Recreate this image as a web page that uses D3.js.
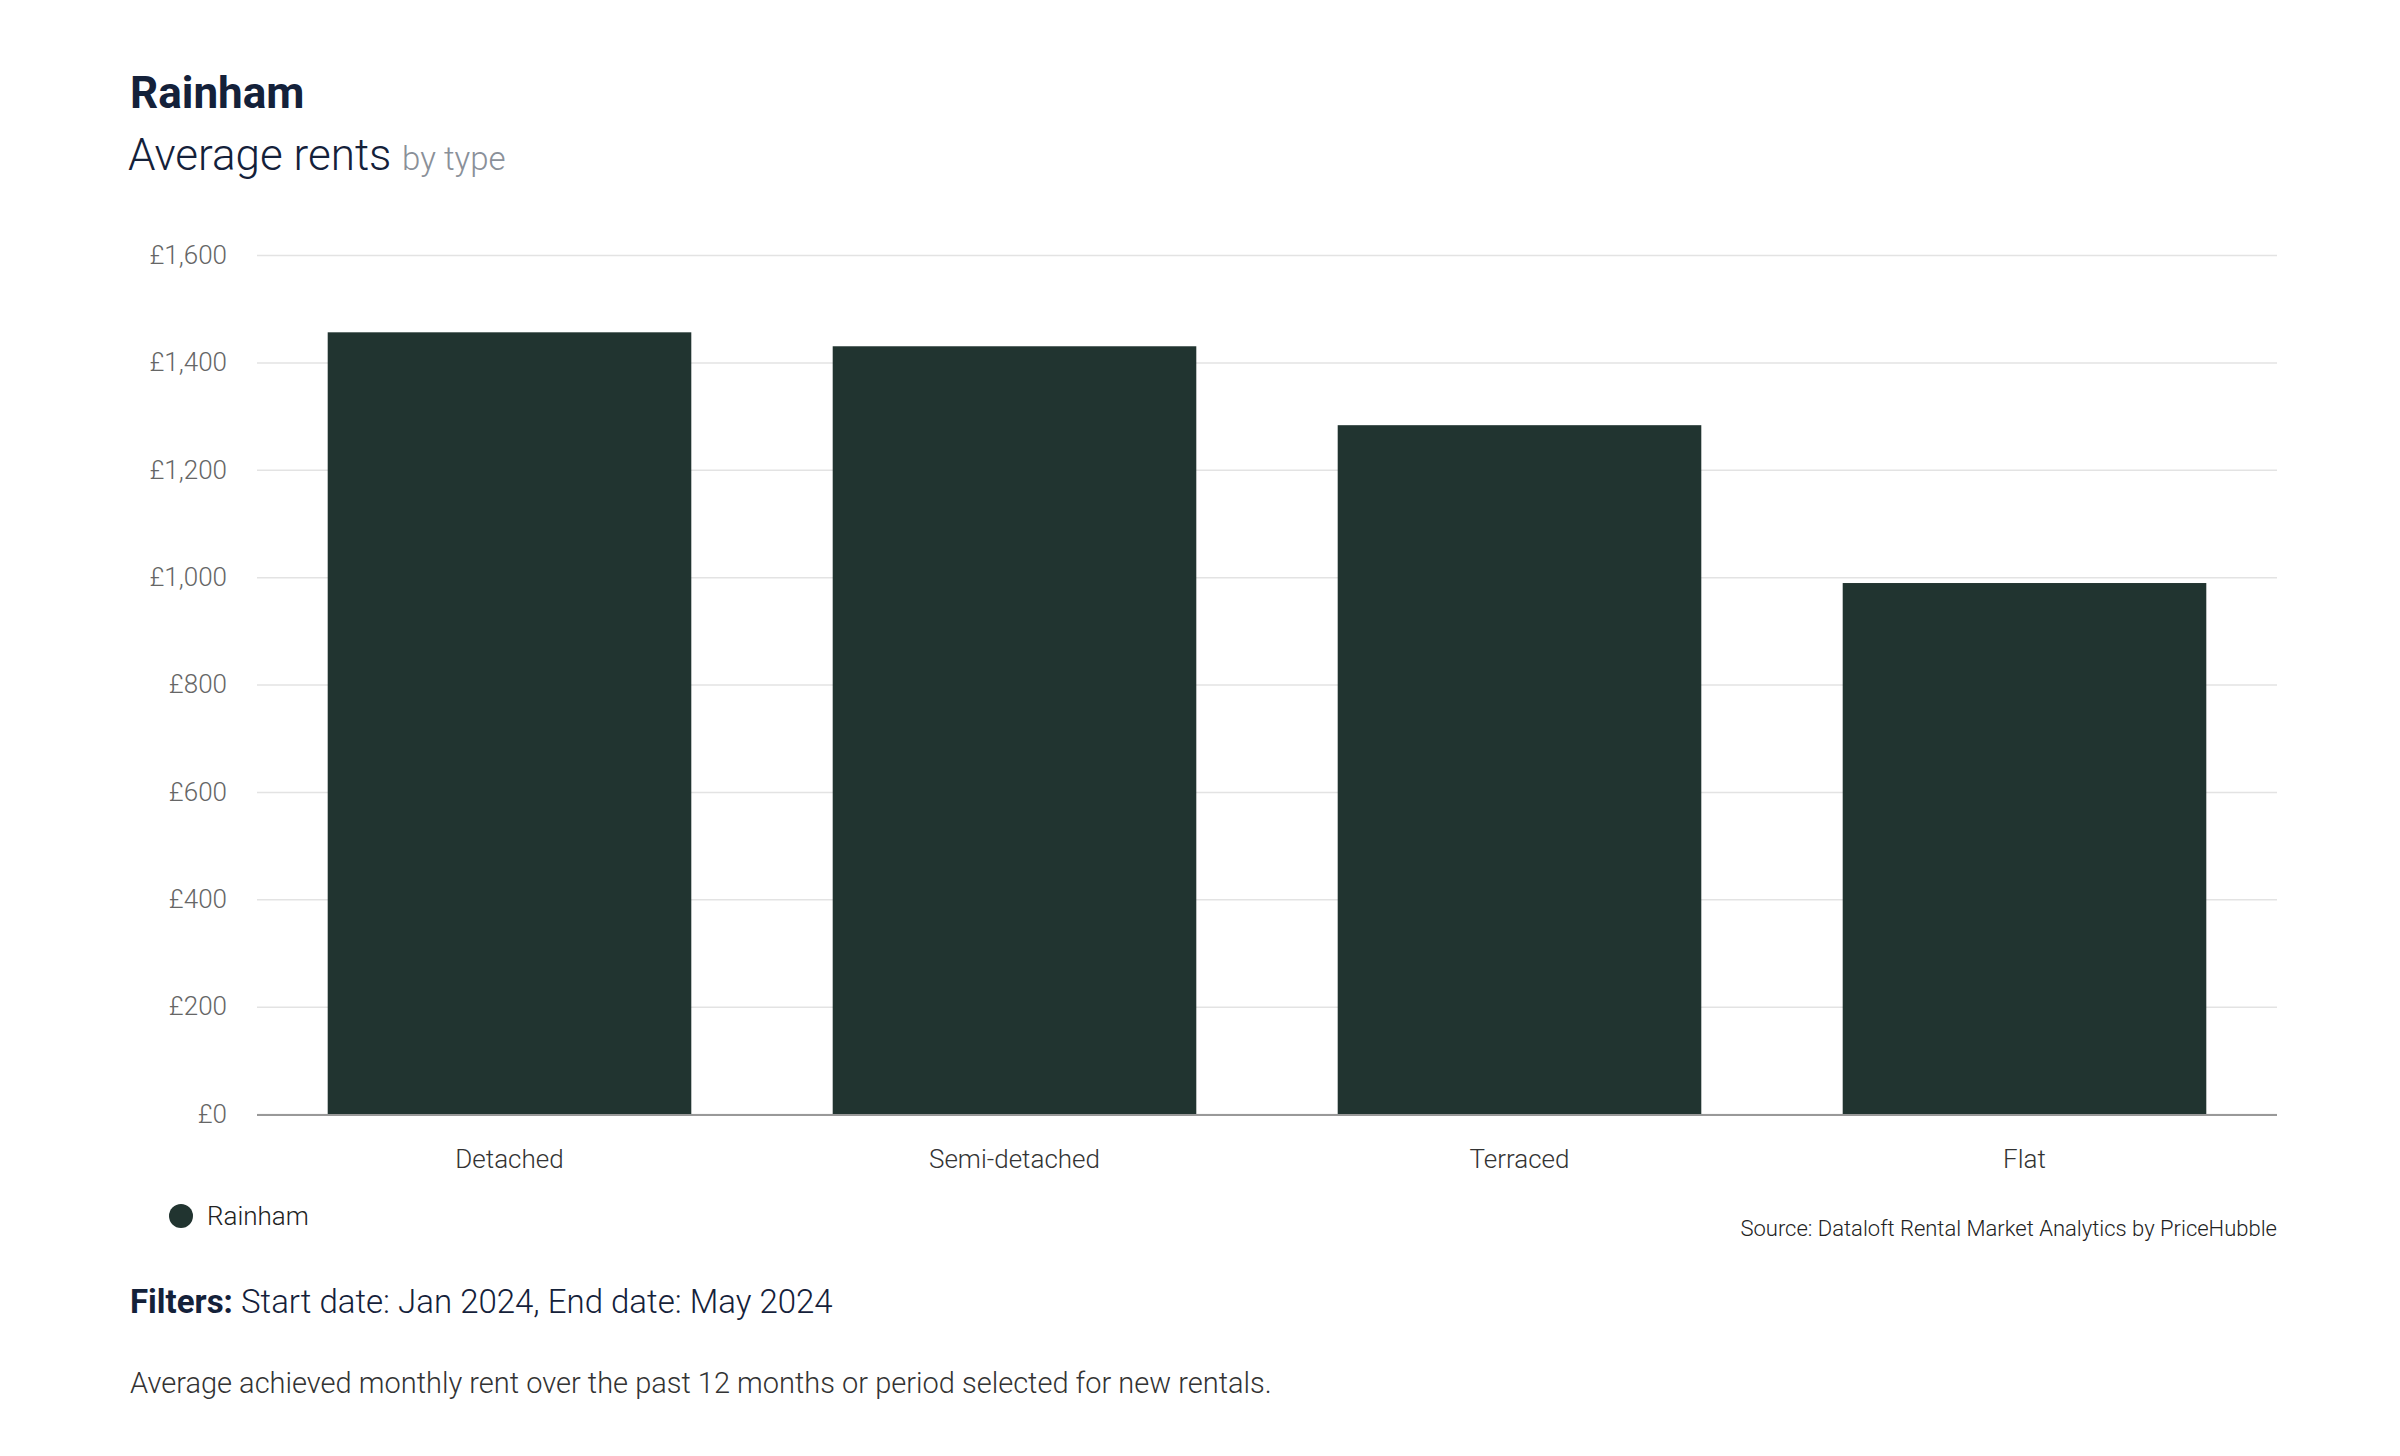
<!DOCTYPE html>
<html><head><meta charset="utf-8">
<script src="https://cdn.jsdelivr.net/npm/d3@7"></script>
<style>body{margin:0;background:#fff}svg{font-family:Roboto,sans-serif}</style>
</head><body>
<svg id="c" width="2400" height="1456"></svg>
<script>
const categories = ["Detached","Semi-detached","Terraced","Flat"];
const values = [1456, 1430, 1283, 989];
const yTicks = [0,200,400,600,800,1000,1200,1400,1600];

const svg = d3.select("#c");
const L=257, R=2277, T=255, B=1114;
const x = d3.scaleBand().domain(categories).range([L,R]).paddingInner(0.28).paddingOuter(0.14);
const y = d3.scaleLinear().domain([0,1600]).range([B,T]);

svg.append("text").attr("x",130).attr("y",108).attr("font-size",44).attr("font-weight",700).attr("fill","#14213a").text("Rainham");
const st = svg.append("text").attr("x",128).attr("y",170).attr("font-size",44).attr("font-weight",300).attr("fill","#14213a");
st.append("tspan").text("Average rents ");
st.append("tspan").attr("font-size",33).attr("fill","#8a9099").text("by type");

const yAxis = svg.append("g").attr("transform",`translate(${L},0)`)
  .call(d3.axisLeft(y).tickValues(yTicks).tickSize(-(R-L)).tickFormat(d=>"£"+d3.format(",")(d)));
yAxis.select(".domain").remove();
yAxis.selectAll(".tick line").attr("stroke","#e3e3e3").attr("stroke-width",1.5);
yAxis.selectAll(".tick text").attr("x",-30).attr("font-size",26).attr("font-weight",300).attr("fill","#666").attr("font-family","Roboto");

svg.selectAll("rect.bar").data(values).join("rect").attr("class","bar")
  .attr("x",(d,i)=>x(categories[i])).attr("width",x.bandwidth())
  .attr("y",d=>y(d)).attr("height",d=>y(0)-y(d)).attr("fill","#213430");

svg.append("line").attr("x1",L).attr("x2",R).attr("y1",B+1).attr("y2",B+1).attr("stroke","#999").attr("stroke-width",2);

svg.selectAll("text.xl").data(categories).join("text").attr("class","xl")
  .attr("x",d=>x(d)+x.bandwidth()/2).attr("y",1168).attr("text-anchor","middle")
  .attr("font-size",26).attr("font-weight",300).attr("fill","#333").text(d=>d);

svg.append("circle").attr("cx",181).attr("cy",1216).attr("r",12).attr("fill","#213430");
svg.append("text").attr("x",207).attr("y",1225).attr("font-size",26).attr("font-weight",300).attr("fill","#222").text("Rainham");
svg.append("text").attr("x",R).attr("y",1236).attr("text-anchor","end").attr("font-size",22).attr("font-weight",300).attr("fill","#222").text("Source: Dataloft Rental Market Analytics by PriceHubble");

const f = svg.append("text").attr("x",130).attr("y",1313).attr("font-size",33).attr("fill","#14213a");
f.append("tspan").attr("font-weight",700).text("Filters:");
f.append("tspan").attr("font-weight",300).text(" Start date: Jan 2024, End date: May 2024");
svg.append("text").attr("x",130).attr("y",1393).attr("font-size",29).attr("font-weight",300).attr("fill","#333").text("Average achieved monthly rent over the past 12 months or period selected for new rentals.");
</script></body></html>
